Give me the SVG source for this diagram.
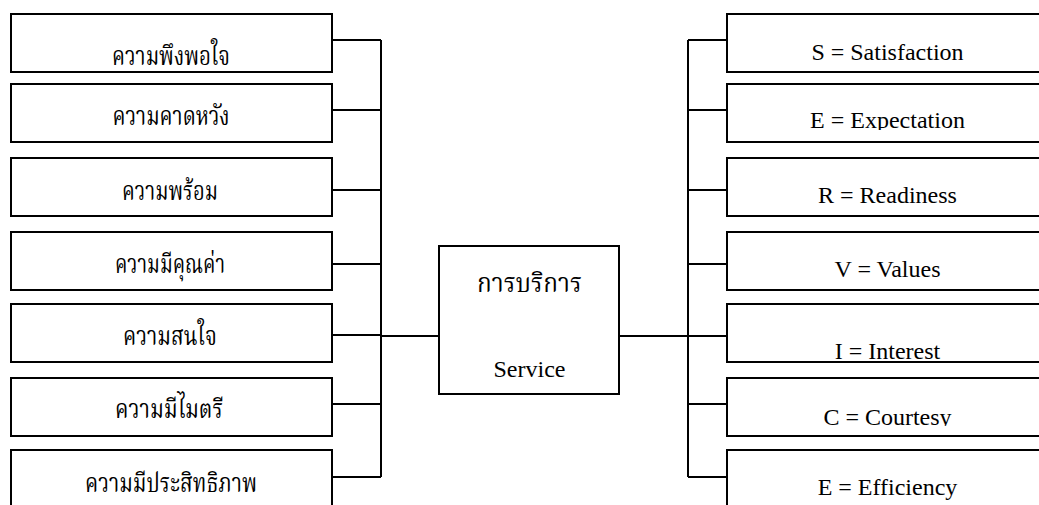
<svg xmlns="http://www.w3.org/2000/svg" width="1039" height="505" viewBox="0 0 1039 505">
  <style>
    .box { fill: #ffffff; stroke: #000000; stroke-width: 2; }
    .wire { fill: none; stroke: #000000; stroke-width: 2; }
    .th { font-family: "Liberation Serif", "Noto Serif Thai", "Noto Sans Thai", serif; font-size: 26px; fill: #000000; text-anchor: middle; }
    .en { font-family: "Liberation Serif", "Times New Roman", serif; font-size: 24px; fill: #000000; text-anchor: middle; }
  </style>
  <defs>
    <clipPath id="clipE1"><rect x="727" y="84" width="320" height="46"/></clipPath>
    <clipPath id="clipC"><rect x="727" y="378" width="320" height="48"/></clipPath>
  </defs>
  <rect width="1039" height="505" fill="#ffffff"/>

  <!-- connectors -->
  <g id="connectors">
    <path class="wire" d="M332 40 H381 M332 110 H381 M332 190 H381 M332 264 H381 M332 335 H381 M332 404 H381 M332 477 H381 M381 40 V477 M381 336 H439"/>
    <path class="wire" d="M619 336 H688 M688 40 V477 M688 40 H727 M688 110 H727 M688 190 H727 M688 264 H727 M688 336 H727 M688 404 H727 M688 477 H727"/>
  </g>

  <!-- left column: Thai terms -->
  <g id="th-satisfaction"><rect class="box" x="11" y="14" width="321" height="58"/><text class="th" x="171" y="65" textLength="118" lengthAdjust="spacingAndGlyphs">ความพึงพอใจ</text></g>
  <g id="th-expectation"><rect class="box" x="11" y="84" width="321" height="58"/><text class="th" x="171" y="125" textLength="117" lengthAdjust="spacingAndGlyphs">ความคาดหวัง</text></g>
  <g id="th-readiness"><rect class="box" x="11" y="158" width="321" height="58"/><text class="th" x="170" y="200" textLength="96" lengthAdjust="spacingAndGlyphs">ความพร้อม</text></g>
  <g id="th-values"><rect class="box" x="11" y="232" width="321" height="58"/><text class="th" x="170" y="273" textLength="110" lengthAdjust="spacingAndGlyphs">ความมีคุณค่า</text></g>
  <g id="th-interest"><rect class="box" x="11" y="304" width="321" height="58"/><text class="th" x="170" y="345" textLength="94" lengthAdjust="spacingAndGlyphs">ความสนใจ</text></g>
  <g id="th-courtesy"><rect class="box" x="11" y="378" width="321" height="58"/><text class="th" x="169" y="418" textLength="108" lengthAdjust="spacingAndGlyphs">ความมีไมตรี</text></g>
  <g id="th-efficiency"><rect class="box" x="11" y="450" width="321" height="60"/><text class="th" x="171" y="492" textLength="172" lengthAdjust="spacingAndGlyphs">ความมีประสิทธิภาพ</text></g>

  <!-- centre -->
  <g id="service"><rect class="box" x="439" y="246" width="180" height="148"/><text class="th" x="529.5" y="292" textLength="105" lengthAdjust="spacingAndGlyphs">การบริการ</text><text class="en" x="529.5" y="377">Service</text></g>

  <!-- right column: English terms -->
  <g id="en-satisfaction"><rect class="box" x="727" y="14" width="321" height="58"/><text class="en" x="887.5" y="60">S = Satisfaction</text></g>
  <g id="en-expectation"><rect class="box" x="727" y="84" width="321" height="58"/><text class="en" x="887.5" y="128" clip-path="url(#clipE1)">E = Expectation</text></g>
  <g id="en-readiness"><rect class="box" x="727" y="158" width="321" height="58"/><text class="en" x="887.5" y="203">R = Readiness</text></g>
  <g id="en-values"><rect class="box" x="727" y="232" width="321" height="58"/><text class="en" x="887.5" y="277">V = Values</text></g>
  <g id="en-interest"><rect class="box" x="727" y="304" width="321" height="58"/><text class="en" x="887.5" y="359">I = Interest</text></g>
  <g id="en-courtesy"><rect class="box" x="727" y="378" width="321" height="58"/><text class="en" x="887.5" y="425" clip-path="url(#clipC)">C = Courtesy</text></g>
  <g id="en-efficiency"><rect class="box" x="727" y="450" width="321" height="60"/><text class="en" x="887.5" y="495">E = Efficiency</text></g>
</svg>
